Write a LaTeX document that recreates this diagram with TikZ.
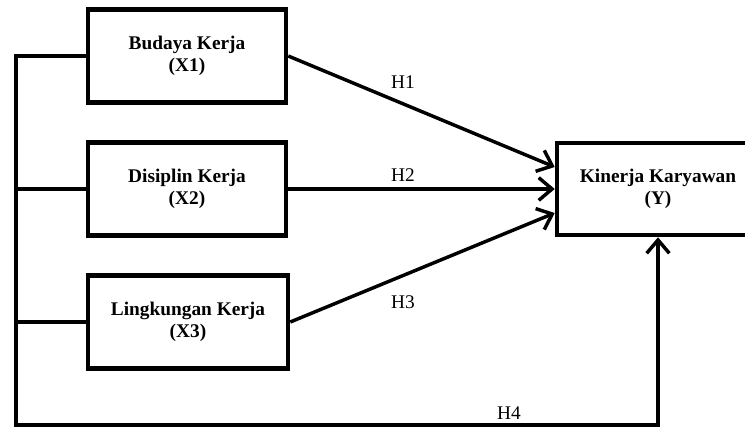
\documentclass[tikz,border=0pt]{standalone}
\usepackage{fontspec}
\setmainfont{Liberation Serif}
\usetikzlibrary{arrows.meta}
\tikzset{
  var/.style={draw=black, line width=3.4pt, fill=white, align=center, inner sep=0pt,
    font=\bfseries\fontsize{14.5}{16.5}\selectfont},
  link/.style={draw=black, line width=2.6pt, line join=miter},
  arr/.style={link, -{Straight Barb[length=10pt,width=17pt]}},
  hyp/.style={font=\fontsize{14.5}{16}\selectfont, inner sep=0pt},
}

\begin{document}
\begin{tikzpicture}[x=0.75pt,y=-0.75pt]
  \useasboundingbox (0,0) rectangle (745,428);

  \node[var, minimum width=148.5pt, minimum height=70pt] (x1) at (187,56) {Budaya Kerja\\(X1)};
  \node[var, minimum width=148.5pt, minimum height=70pt] (x2) at (187,189) {Disiplin Kerja\\(X2)};
  \node[var, minimum width=150pt, minimum height=70pt] (x3) at (188,322) {Lingkungan Kerja\\(X3)};
  \node[var, minimum width=151.5pt, minimum height=69pt] (y) at (658,189) {Kinerja Karyawan\\(Y)};

  \coordinate (bl) at (16,425);

  \draw[arr] (x1.east) -- ([yshift=16.5pt]y.west);
  \draw[arr] (x2.east) -- (y.west);
  \draw[arr] (x3.east) -- ([yshift=-18pt]y.west);

  % left bus to the bottom arrow
  \draw[arr] (x1.west) -| (bl) -| (y.south);
  \draw[link] (x2.west) -- (x2.west -| bl);
  \draw[link] (x3.west) -- (x3.west -| bl);

  \node[hyp] (h1) at (403,82) {H1};
  \node[hyp] (h2) at (403,175) {H2};
  \node[hyp] (h3) at (403,302) {H3};
  \node[hyp] (h4) at (509,413) {H4};
\end{tikzpicture}
\end{document}
